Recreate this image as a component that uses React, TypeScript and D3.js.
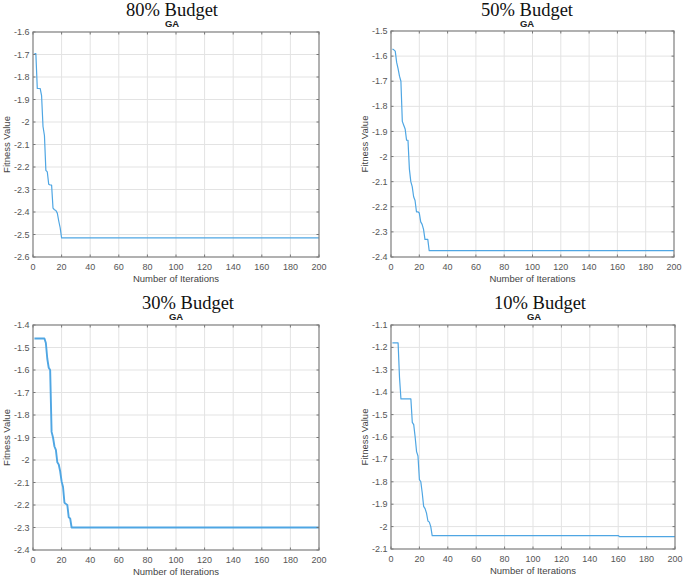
import { useEffect, useRef } from 'react';
import * as d3 from 'd3';

type Pt = [number, number];

// panel titles (serif, pasted above each MATLAB axes)
const budgetTitles = ['80% Budget', '50% Budget', '30% Budget', '10% Budget'];
const subTitle = 'GA';
const xLabel = 'Number of Iterations';
const yLabel = 'Fitness Value';

const xDomain: [number, number] = [0, 200];
const xTicks = [0, 20, 40, 60, 80, 100, 120, 140, 160, 180, 200];

const yDomain80: [number, number] = [-2.6, -1.6];
const yDomain50: [number, number] = [-2.4, -1.5];
const yDomain30: [number, number] = [-2.4, -1.4];
const yDomain10: [number, number] = [-2.1, -1.1];

// best fitness per iteration, [iteration, value]
const ga80: Pt[] = [
  [1, -1.696], [2, -1.696], [3, -1.851], [4, -1.851], [5, -1.851], [6, -1.883],
  [7, -2.02], [8, -2.06], [9, -2.215], [10, -2.222], [11, -2.277], [12, -2.28],
  [13, -2.28], [14, -2.383], [15, -2.39], [16, -2.393], [17, -2.405], [18, -2.44],
  [19, -2.47], [20, -2.515], [200, -2.515],
];

const ga50: Pt[] = [
  [1, -1.572], [2, -1.575], [3, -1.58], [4, -1.625], [5, -1.65], [6, -1.68],
  [7, -1.7], [8, -1.86], [9, -1.875], [10, -1.89], [11, -1.935], [12, -1.935],
  [13, -2.05], [14, -2.1], [15, -2.12], [16, -2.16], [17, -2.175], [18, -2.22],
  [19, -2.22], [20, -2.225], [21, -2.26], [22, -2.27], [23, -2.29], [24, -2.33],
  [25, -2.33], [26, -2.33], [27, -2.375], [200, -2.375],
];

const ga30: Pt[] = [
  [1, -1.46], [2, -1.46], [3, -1.46], [4, -1.46], [5, -1.46], [6, -1.46],
  [7, -1.46], [8, -1.46], [9, -1.48], [10, -1.55], [11, -1.59], [12, -1.6],
  [13, -1.875], [14, -1.9], [15, -1.94], [16, -1.955], [17, -2.01], [18, -2.02],
  [19, -2.05], [20, -2.095], [21, -2.12], [22, -2.19], [23, -2.195], [24, -2.2],
  [25, -2.255], [26, -2.26], [27, -2.3], [200, -2.3],
];

const ga10: Pt[] = [
  [1, -1.18], [2, -1.18], [3, -1.18], [4, -1.18], [5, -1.18], [6, -1.335],
  [7, -1.43], [8, -1.43], [9, -1.43], [10, -1.43], [11, -1.43], [12, -1.43],
  [13, -1.43], [14, -1.43], [15, -1.535], [16, -1.545], [17, -1.6], [18, -1.665],
  [19, -1.685], [20, -1.79], [21, -1.8], [22, -1.85], [23, -1.91], [24, -1.92],
  [25, -1.94], [26, -1.975], [27, -1.98], [28, -2.0], [29, -2.04], [160, -2.04],
  [161, -2.045], [200, -2.045],
];

const panels = [
  { title: budgetTitles[0], yDomain: yDomain80, data: ga80, box: { l: 33, t: 32, r: 319, b: 257 }, titleX: 172, titleY: 16, gaX: 172, gaY: 27, lw: 1.2 },
  { title: budgetTitles[1], yDomain: yDomain50, data: ga50, box: { l: 391, t: 31, r: 674, b: 257 }, titleX: 527, titleY: 16, gaX: 527, gaY: 26.5, lw: 1.2 },
  { title: budgetTitles[2], yDomain: yDomain30, data: ga30, box: { l: 33, t: 325, r: 319, b: 550 }, titleX: 188, titleY: 309, gaX: 176, gaY: 320, lw: 1.9 },
  { title: budgetTitles[3], yDomain: yDomain10, data: ga10, box: { l: 391, t: 325, r: 675, b: 549 }, titleX: 540, titleY: 308.5, gaX: 534, gaY: 319.5, lw: 1.2 },
];

const fmt = (v: number) => String(+v.toFixed(1));

const App = () => {
  const svgRef = useRef<SVGSVGElement>(null);

  useEffect(() => {
    const svg = d3.select(svgRef.current);
    svg.selectAll('*').remove();

    svg.append('rect').attr('width', 685).attr('height', 578).attr('fill', '#fff');

    panels.forEach((p) => {
      const { l, t, r, b } = p.box;
      const x = d3.scaleLinear().domain(xDomain).range([l, r]);
      const y = d3.scaleLinear().domain(p.yDomain).range([b, t]);
      const yTicks = y.ticks(10);
      const g = svg.append('g');

      // grid
      g.selectAll('.gx')
        .data(xTicks.slice(1, -1))
        .enter()
        .append('line')
        .attr('x1', d => x(d)).attr('x2', d => x(d))
        .attr('y1', t).attr('y2', b)
        .attr('stroke', '#e3e3e3').attr('stroke-width', 1);
      g.selectAll('.gy')
        .data(yTicks.slice(1, -1))
        .enter()
        .append('line')
        .attr('x1', l).attr('x2', r)
        .attr('y1', d => y(d)).attr('y2', d => y(d))
        .attr('stroke', '#e3e3e3').attr('stroke-width', 1);

      // series
      const line = d3.line<Pt>().x(d => x(d[0])).y(d => y(d[1]));
      g.append('path')
        .datum(p.data)
        .attr('d', line)
        .attr('fill', 'none')
        .attr('stroke', '#4fa6e3')
        .attr('stroke-width', p.lw)
        .attr('stroke-linejoin', 'round');

      // inward ticks on all sides
      const tk = 2.5;
      xTicks.forEach(v => {
        g.append('line').attr('x1', x(v)).attr('x2', x(v)).attr('y1', b).attr('y2', b - tk).attr('stroke', '#777');
        g.append('line').attr('x1', x(v)).attr('x2', x(v)).attr('y1', t).attr('y2', t + tk).attr('stroke', '#777');
      });
      yTicks.forEach(v => {
        g.append('line').attr('x1', l).attr('x2', l + tk).attr('y1', y(v)).attr('y2', y(v)).attr('stroke', '#777');
        g.append('line').attr('x1', r).attr('x2', r - tk).attr('y1', y(v)).attr('y2', y(v)).attr('stroke', '#777');
      });

      // box
      g.append('rect')
        .attr('x', l).attr('y', t)
        .attr('width', r - l).attr('height', b - t)
        .attr('fill', 'none')
        .attr('stroke', '#7d7d7d')
        .attr('stroke-width', 1.2);

      // tick labels
      g.selectAll('.xl')
        .data(xTicks)
        .enter()
        .append('text')
        .attr('x', d => x(d))
        .attr('y', b + 13)
        .attr('text-anchor', 'middle')
        .attr('font-family', 'Liberation Sans, Arial, sans-serif')
        .attr('font-size', 9)
        .attr('fill', '#555')
        .text(d => fmt(d));
      g.selectAll('.yl')
        .data(yTicks)
        .enter()
        .append('text')
        .attr('x', l - 3.5)
        .attr('y', d => y(d))
        .attr('dy', '0.34em')
        .attr('text-anchor', 'end')
        .attr('font-family', 'Liberation Sans, Arial, sans-serif')
        .attr('font-size', 9)
        .attr('fill', '#555')
        .text(d => fmt(d));

      // axis labels
      g.append('text')
        .attr('x', (l + r) / 2)
        .attr('y', b + 25)
        .attr('text-anchor', 'middle')
        .attr('font-family', 'Liberation Sans, Arial, sans-serif')
        .attr('font-size', 9.5)
        .attr('fill', '#444')
        .text(xLabel);
      g.append('text')
        .attr('transform', `translate(${l - 26},${(t + b) / 2}) rotate(-90)`)
        .attr('dy', '0.35em')
        .attr('text-anchor', 'middle')
        .attr('font-family', 'Liberation Sans, Arial, sans-serif')
        .attr('font-size', 9.5)
        .attr('fill', '#444')
        .text(yLabel);

      // titles
      g.append('text')
        .attr('x', p.titleX)
        .attr('y', p.titleY)
        .attr('text-anchor', 'middle')
        .attr('font-family', 'Liberation Serif, Times New Roman, serif')
        .attr('font-size', 18.5)
        .attr('fill', '#111')
        .text(p.title);
      g.append('text')
        .attr('x', p.gaX)
        .attr('y', p.gaY)
        .attr('text-anchor', 'middle')
        .attr('font-family', 'Liberation Sans, Arial, sans-serif')
        .attr('font-size', 9.5)
        .attr('font-weight', 'bold')
        .attr('fill', '#222')
        .text(subTitle);
    });
  }, []);

  return (
    <svg
      ref={svgRef}
      width={685}
      height={578}
      style={{ position: 'absolute', left: 0, top: 0 }}
    />
  );
};

export default App;
